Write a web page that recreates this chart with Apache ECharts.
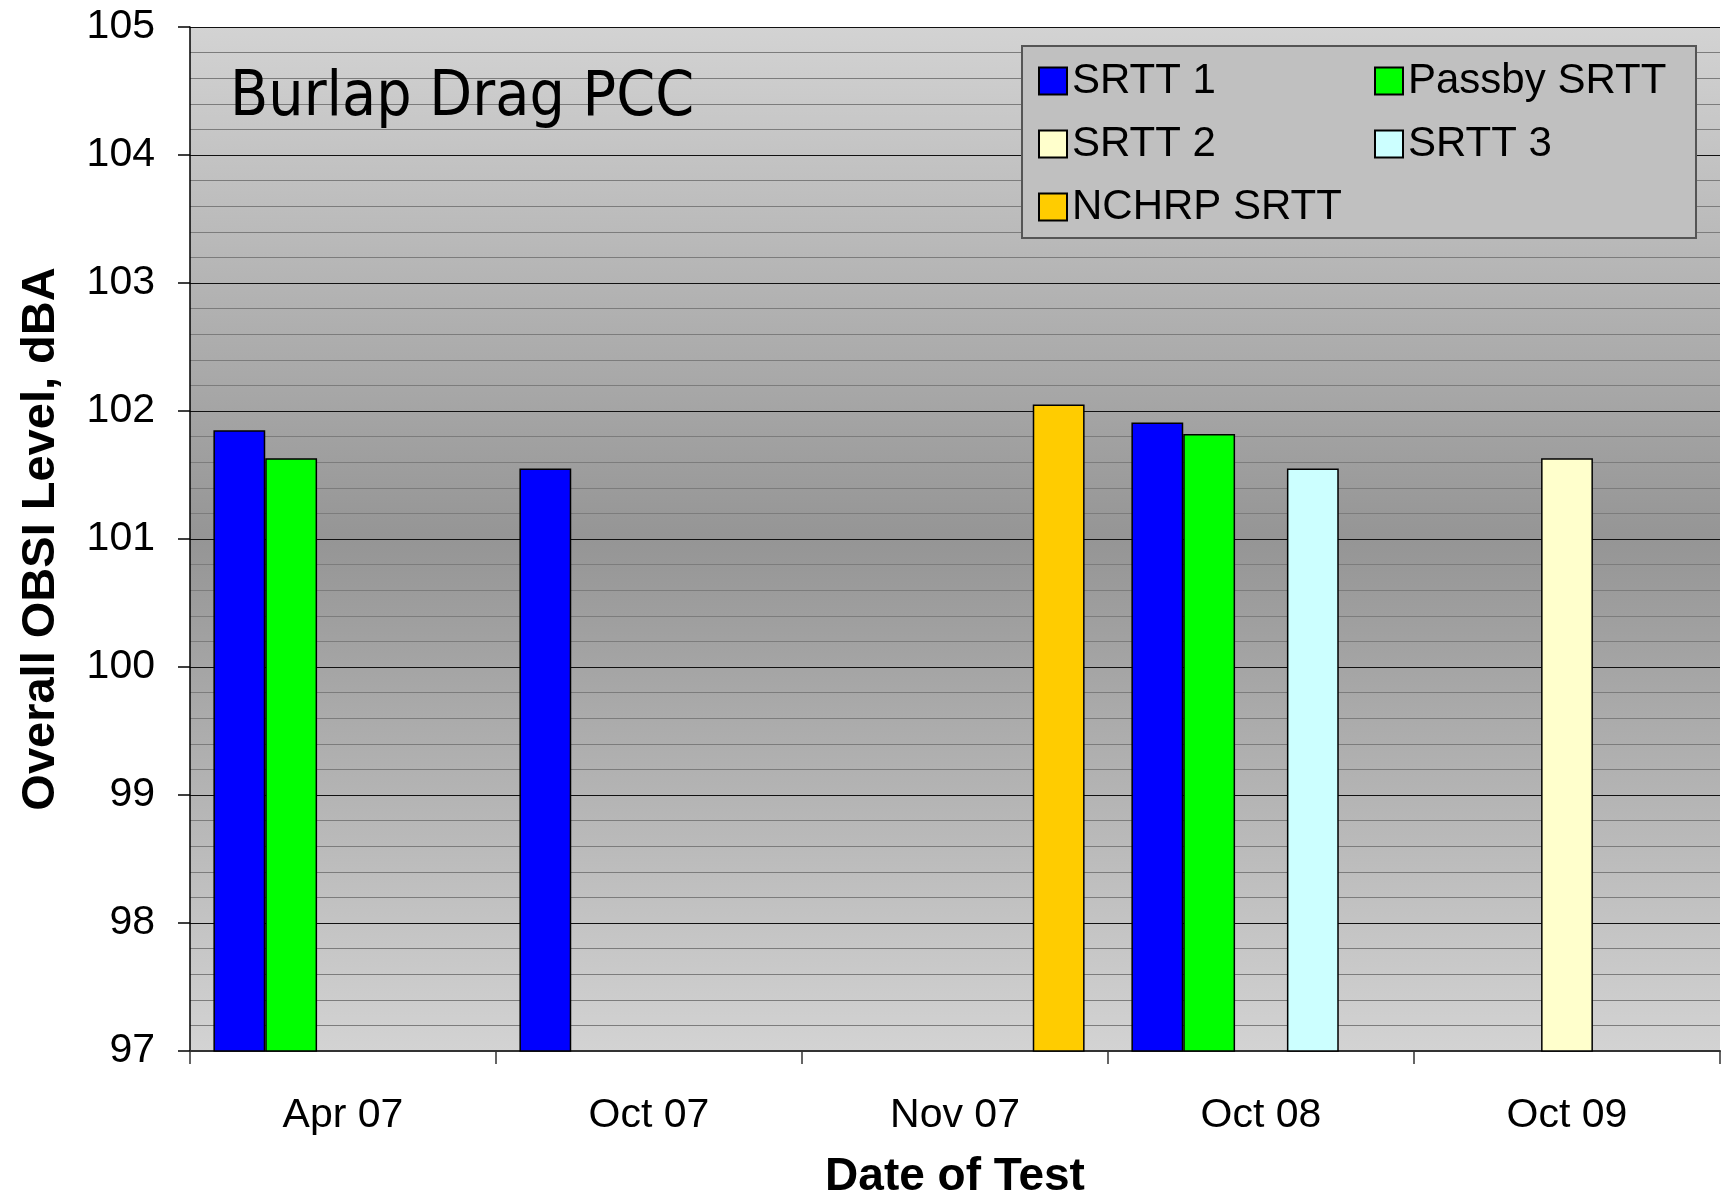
<!DOCTYPE html>
<html>
<head>
<meta charset="utf-8">
<title>Burlap Drag PCC</title>
<script src="https://cdn.jsdelivr.net/npm/echarts@6/dist/echarts.min.js"></script>
<style>
  html, body { margin: 0; padding: 0; background: #fff; }
  #main { width: 1723px; height: 1201px; }
</style>
</head>
<body>
<div id="main"></div>
<script>
// test dates (categories)
var dates = ['Apr 07', 'Oct 07', 'Nov 07', 'Oct 08', 'Oct 09'];
// overall OBSI level per tyre, dBA ('-' = not tested)
var srtt1 = [101.85, 101.55, '-', 101.91, '-'];
var passby = [101.63, '-', '-', 101.82, '-'];
var srtt2 = ['-', '-', '-', '-', 101.63];
var srtt3 = ['-', '-', '-', 101.55, '-'];
var nchrp = ['-', '-', 102.05, '-', '-'];

var arial = "'Liberation Sans', Arial, sans-serif";

function bar(name, data, color) {
  return {
    name: name,
    type: 'bar',
    data: data,
    barGap: 0,
    barCategoryGap: '15.3%',
    itemStyle: { color: color, borderColor: '#000', borderWidth: 1.5 }
  };
}

var chart = echarts.init(document.getElementById('main'));
chart.setOption({
  animation: false,
  title: {
    text: 'Burlap Drag PCC',
    left: 230, top: 68, padding: 0,
    textStyle: {
      fontFamily: "'DejaVu Sans Condensed', 'DejaVu Sans', sans-serif",
      fontSize: 62, lineHeight: 62, fontWeight: 'normal', color: '#000'
    }
  },
  graphic: [{
    type: 'rect', z: 3,
    shape: { x: 1022, y: 46, width: 674, height: 192 },
    style: { fill: '#c0c0c0', stroke: '#555', lineWidth: 2 }
  }],
  legend: [{
    data: ['SRTT 1', 'SRTT 2', 'NCHRP SRTT'],
    orient: 'vertical', left: 1038, top: 60, padding: 0, itemGap: 21,
    itemWidth: 28, itemHeight: 27, icon: 'rect',
    textStyle: { fontFamily: arial, fontSize: 42, lineHeight: 42, color: '#000' }
  }, {
    data: ['Passby SRTT', 'SRTT 3'],
    orient: 'vertical', left: 1374, top: 60, padding: 0, itemGap: 21,
    itemWidth: 28, itemHeight: 27, icon: 'rect',
    textStyle: { fontFamily: arial, fontSize: 42, lineHeight: 42, color: '#000' }
  }],
  grid: {
    left: 190, right: 3, top: 27, bottom: 150,
    outerBoundsMode: 'none',
    show: true, borderWidth: 0,
    backgroundColor: new echarts.graphic.LinearGradient(0, 0, 0, 1, [
      { offset: 0, color: '#d3d3d3' },
      { offset: 0.5, color: '#959595' },
      { offset: 1, color: '#d3d3d3' }
    ])
  },
  xAxis: {
    type: 'category',
    data: dates,
    name: 'Date of Test',
    nameLocation: 'middle',
    nameGap: 103,
    nameTextStyle: { fontFamily: arial, fontSize: 46, fontWeight: 'bold', color: '#000' },
    axisLine: { show: true, lineStyle: { color: '#333', width: 2 } },
    axisTick: { show: true, alignWithLabel: false, interval: 0, length: 13, lineStyle: { color: '#333', width: 1.5 } },
    axisLabel: { margin: 44, fontFamily: arial, fontSize: 41, lineHeight: 41, color: '#000' },
    splitLine: { show: false }
  },
  yAxis: {
    type: 'value',
    min: 97, max: 105, interval: 1,
    name: 'Overall OBSI Level, dBA',
    nameLocation: 'middle',
    nameGap: 125,
    nameTextStyle: { fontFamily: arial, fontSize: 47, fontWeight: 'bold', color: '#000' },
    axisLine: { show: true, lineStyle: { color: '#000', width: 1.5 } },
    axisTick: { show: true, length: 12, lineStyle: { color: '#000', width: 1.5 } },
    axisLabel: { margin: 35, fontFamily: arial, fontSize: 41, color: '#000' },
    splitLine: { show: true, lineStyle: { color: '#111', width: 1.2 } },
    minorTick: { show: false, splitNumber: 5 },
    minorSplitLine: { show: true, lineStyle: { color: '#7c7c7c', width: 1.2 } }
  },
  series: [
    bar('SRTT 1', srtt1, '#0000ff'),
    bar('Passby SRTT', passby, '#00ff00'),
    bar('SRTT 2', srtt2, '#ffffcc'),
    bar('SRTT 3', srtt3, '#ccffff'),
    bar('NCHRP SRTT', nchrp, '#ffcc00')
  ]
});
</script>
</body>
</html>
